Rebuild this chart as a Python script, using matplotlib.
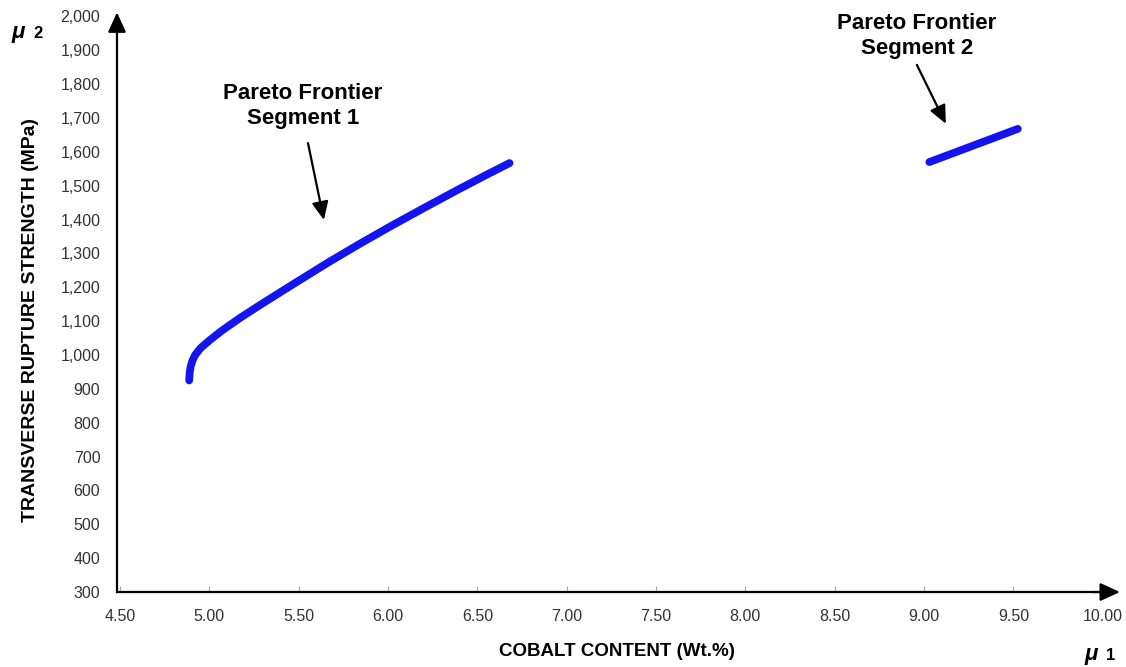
import matplotlib as mpl
import matplotlib.pyplot as plt
from matplotlib.ticker import FuncFormatter

mpl.rcParams.update({"font.family": ["Liberation Sans", "DejaVu Sans"]})

# Pareto frontier, segment 1 (cobalt wt.%, TRS in MPa)
seg1_co = [4.887, 4.89, 4.895, 4.905, 4.92, 4.95, 5.00, 5.07, 5.17, 5.29, 5.45, 5.67,
           5.85, 6.02, 6.20, 6.39, 6.55, 6.68]
seg1_trs = [925, 948, 965, 983, 1000, 1020, 1043, 1072, 1109, 1150, 1203, 1275,
            1331, 1382, 1434, 1488, 1532, 1567]

# Pareto frontier, segment 2
seg2_co = [9.03, 9.525]
seg2_trs = [1570, 1668]

x_ticks = [4.5, 5.0, 5.5, 6.0, 6.5, 7.0, 7.5, 8.0, 8.5, 9.0, 9.5, 10.0]
y_ticks = list(range(300, 2001, 100))

BLUE = "#1414f0"
TICK_GREY = "#333333"

fig = plt.figure(figsize=(11.26, 6.67), dpi=100)
ax = fig.add_axes([0.1039, 0.1124, 0.8754, 0.8629])

ax.plot(seg1_co, seg1_trs, color=BLUE, lw=5.6, solid_capstyle="round",
        solid_joinstyle="round", zorder=3)
ax.plot(seg2_co, seg2_trs, color=BLUE, lw=5.6, solid_capstyle="round", zorder=3)

ax.set_xlim(4.483, 10.0)
ax.set_ylim(300, 2000)
ax.set_xticks(x_ticks)
ax.set_yticks(y_ticks)
ax.xaxis.set_major_formatter(FuncFormatter(lambda v, _: f"{v:.2f}"))
ax.yaxis.set_major_formatter(FuncFormatter(lambda v, _: f"{int(v):,}"))
ax.tick_params(axis="x", direction="in", length=4, color="#aaaaaa", labelsize=11.5,
               labelcolor=TICK_GREY, pad=12)
ax.tick_params(axis="y", length=0, labelsize=11.5, labelcolor=TICK_GREY, pad=12)

for s in ["top", "right"]:
    ax.spines[s].set_visible(False)
for s in ["left", "bottom"]:
    ax.spines[s].set_linewidth(1.6)
    ax.spines[s].set_color("black")

# arrowheads at the end of both axes
axis_head = dict(arrowstyle="-|>,head_length=1.2,head_width=0.55", color="black",
                 lw=1.6, shrinkA=0, shrinkB=0)
ax.annotate("", xy=(1.0175, 0), xytext=(0.99, 0), xycoords="axes fraction",
            arrowprops=axis_head)
ax.annotate("", xy=(0, 1.007), xytext=(0, 0.97), xycoords="axes fraction",
            arrowprops=axis_head)

fig.text(0.548, 0.0225, "COBALT CONTENT (Wt.%)", fontsize=13.5, fontweight="bold",
         ha="center", va="center")
fig.text(0.0275, 0.52, "TRANSVERSE RUPTURE STRENGTH (MPa)", fontsize=14,
         fontweight="bold", ha="center", va="center", rotation=90)

# objective symbols
fig.text(0.010, 0.943, "μ", fontsize=16, fontweight="bold", style="italic")
fig.text(0.030, 0.943, "2", fontsize=12, fontweight="bold")
fig.text(0.963, 0.010, "μ", fontsize=16, fontweight="bold", style="italic")
fig.text(0.982, 0.010, "1", fontsize=12, fontweight="bold")

arrow = dict(arrowstyle="-|>,head_length=1.1,head_width=0.5", color="black",
             lw=1.6, shrinkA=0, shrinkB=0)
ax.annotate("", xy=(5.641, 1399), xytext=(5.552, 1626), arrowprops=arrow)
ax.text(5.524, 1735, "Pareto Frontier\nSegment 1", ha="center", va="center",
        fontsize=16, fontweight="bold", linespacing=1.25)
ax.annotate("", xy=(9.122, 1683), xytext=(8.960, 1857), arrowprops=arrow)
ax.text(8.960, 1943, "Pareto Frontier\nSegment 2", ha="center", va="center",
        fontsize=16, fontweight="bold", linespacing=1.25)

fig.savefig("out.png", dpi=100, facecolor="white")
